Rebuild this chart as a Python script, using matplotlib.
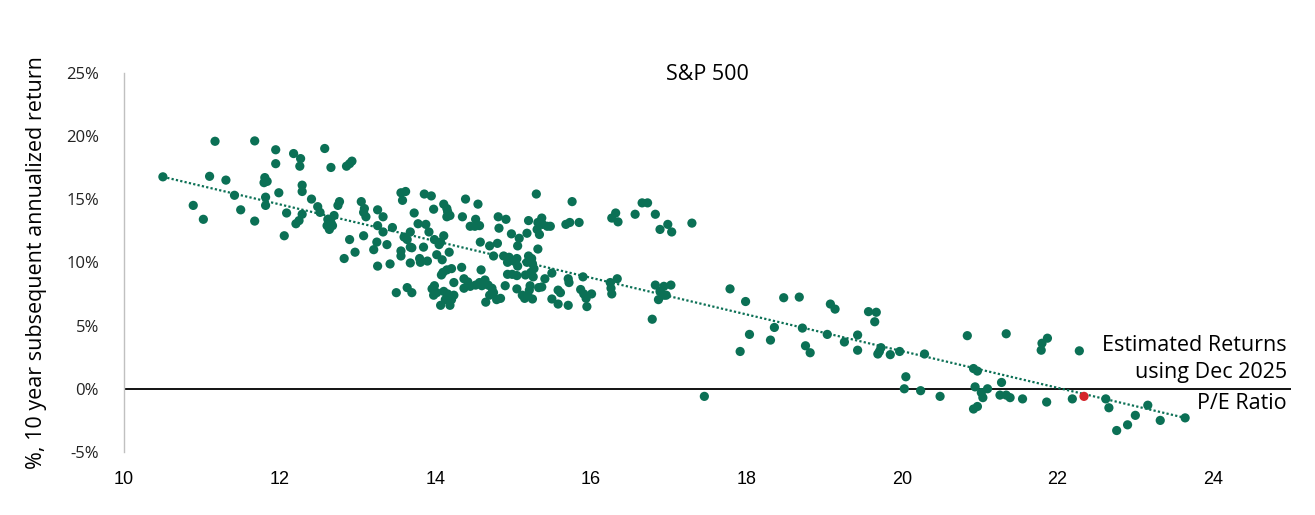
import matplotlib.pyplot as plt

# P/E ratio vs subsequent 10 year annualized return
pe_ratio = [
    11.17, 11.68, 11.95, 11.95, 12.18, 12.27, 12.26, 12.58, 12.66, 12.86, 12.90, 12.93,
    10.50, 11.10, 11.31, 11.81, 11.80, 11.84, 11.42, 10.89, 11.02, 11.50, 11.68, 11.82,
    11.82, 11.99, 12.09, 12.06, 12.29, 12.29, 12.29, 12.21, 12.25, 12.41, 12.49, 12.52,
    12.77, 12.75, 12.62, 12.66, 12.61, 12.68, 12.64, 12.70, 13.05, 13.09, 13.08, 13.11,
    12.90, 12.83, 12.97, 13.08, 13.21, 13.26, 13.42, 13.26, 13.33, 13.26, 13.33, 13.45,
    13.25, 13.38, 13.56, 13.62, 13.58, 13.68, 13.60, 13.64, 13.68, 13.56, 13.56, 13.68,
    13.50, 13.64,
    13.86, 13.95, 13.73, 13.98, 14.11, 14.15, 14.16, 14.19, 14.15, 14.39, 14.55, 14.35,
    14.52, 14.45, 14.51, 14.57, 14.81, 14.91, 14.82, 14.98, 13.78, 13.88, 13.92, 13.99,
    14.07, 14.11, 14.05, 13.70, 13.85, 14.18, 14.58, 14.70, 14.80, 14.75, 14.88, 14.95,
    14.93, 15.01, 15.05, 13.80, 13.81, 13.90, 14.02, 14.09, 14.10, 14.15, 14.21, 14.34,
    14.59, 14.08, 13.70, 13.99, 13.96, 14.02, 13.98, 14.11, 14.16, 14.13, 14.21, 14.24,
    14.19, 14.07, 14.24, 14.37, 14.42, 14.45, 14.37, 14.52, 14.57, 14.60, 14.64, 14.68,
    14.73, 14.75, 14.79, 14.70, 14.65, 14.84, 14.90, 14.93, 14.99, 15.05, 15.05,
    15.30, 15.76, 15.20, 15.32, 15.37, 15.38, 15.44, 15.48, 15.31, 15.34, 15.68, 15.73,
    15.85, 16.32, 16.27, 16.35, 15.18, 15.08, 15.06, 15.32, 15.20, 15.24, 15.18, 15.25,
    15.06, 15.27, 15.23, 15.26, 15.16, 15.50, 15.41, 15.71, 15.72, 15.90, 16.34, 16.25,
    16.26, 16.27, 15.22, 15.21, 15.19, 15.25, 15.12, 15.15, 15.33, 15.37, 15.58, 15.61,
    15.50, 15.58, 15.71, 15.87, 15.91, 16.01, 15.94, 15.95,
    16.57, 16.66, 16.73, 16.83, 16.89, 16.99, 17.04, 17.30, 16.83, 16.94, 17.03, 16.89,
    16.94, 16.87, 16.97, 17.79, 16.79,
    17.99, 18.04, 17.92, 17.46, 18.31, 18.36, 18.48, 18.68, 18.72, 18.76, 18.82, 19.08,
    19.14, 19.04, 19.26, 19.43, 19.43, 19.57, 19.67, 19.65, 19.73, 19.71, 19.69, 19.85,
    19.97, 20.29, 20.84, 20.05, 20.03, 20.24, 20.49, 20.92, 20.97, 20.94, 20.92, 20.97,
    21.34, 21.87, 21.80, 21.79, 22.28, 21.28, 21.02, 21.10, 21.04, 21.26, 21.34, 21.39,
    21.55, 21.86, 22.19, 22.62, 22.66, 23.16, 23.00, 22.90, 22.76, 23.32, 23.64,
]
fwd_return = [
    19.57, 19.60, 18.90, 17.80, 18.60, 18.20, 17.60, 19.00, 17.50, 17.60, 17.80, 18.00,
    16.76, 16.80, 16.50, 16.70, 16.30, 16.40, 15.30, 14.50, 13.40, 14.15, 13.26, 15.15,
    14.50, 15.50, 13.90, 12.10, 16.10, 15.60, 13.80, 13.05, 13.30, 15.00, 14.40, 13.95,
    14.80, 14.50, 13.40, 13.15, 12.90, 12.90, 12.60, 13.70, 14.80, 14.25, 13.95, 13.60,
    11.80, 10.30, 10.80, 12.10, 11.00, 9.70, 9.87, 14.15, 13.60, 12.90, 12.40, 12.75,
    11.60, 11.40, 15.50, 15.60, 14.90, 12.40, 12.00, 11.80, 11.20, 10.90, 10.50, 9.95,
    7.60, 8.00,
    15.40, 15.25, 13.90, 14.20, 14.60, 14.25, 14.00, 13.70, 13.60, 15.00, 14.60, 13.60,
    13.40, 12.85, 12.85, 12.90, 13.60, 13.40, 12.70, 12.25, 13.05, 13.00, 12.40, 11.80,
    11.60, 12.10, 11.40, 11.15, 11.20, 10.80, 11.60, 11.30, 11.50, 10.50, 10.50, 10.40,
    10.00, 10.10, 10.30, 10.30, 10.00, 10.10, 10.60, 10.20, 9.20, 9.40, 9.50, 9.60,
    9.40, 9.00, 7.60, 8.15, 7.90, 7.60, 7.40, 7.70, 7.50, 7.05, 7.05, 7.40,
    6.60, 6.60, 8.40, 8.70, 8.45, 8.10, 7.95, 8.20, 8.40, 8.15, 8.60, 8.20,
    7.95, 7.60, 7.05, 7.40, 6.85, 7.15, 8.15, 9.05, 9.05, 8.95, 7.90,
    15.40, 14.80, 13.30, 13.15, 13.50, 13.00, 12.85, 12.85, 12.60, 12.20, 13.00, 13.15,
    13.15, 13.90, 13.50, 13.20, 12.30, 11.90, 11.30, 11.05, 10.50, 10.30, 10.00, 9.90,
    9.70, 9.50, 9.20, 8.85, 9.00, 9.15, 8.70, 8.70, 8.40, 8.85, 8.70, 8.40,
    7.95, 7.50, 8.15, 7.80, 7.40, 7.10, 7.40, 7.15, 8.00, 8.05, 7.80, 7.60,
    7.10, 6.70, 6.60, 7.85, 7.50, 7.50, 7.15, 6.50,
    13.80, 14.70, 14.70, 13.80, 12.60, 13.00, 12.40, 13.10, 8.20, 8.10, 8.20, 7.70,
    7.40, 7.05, 7.40, 7.90, 5.50,
    6.90, 4.30, 2.95, -0.60, 3.85, 4.85, 7.20, 7.25, 4.80, 3.40, 2.85, 6.70,
    6.30, 4.30, 3.70, 4.25, 3.05, 6.10, 6.05, 5.30, 3.25, 2.95, 2.75, 2.70,
    2.95, 2.75, 4.20, 0.95, 0.00, -0.15, -0.60, 1.60, 1.40, 0.15, -1.60, -1.40,
    4.35, 4.00, 3.60, 3.05, 3.00, 0.50, -0.30, 0.00, -0.70, -0.50, -0.50, -0.70,
    -0.80, -1.05, -0.80, -0.80, -1.50, -1.30, -2.10, -2.85, -3.30, -2.50, -2.30,
]

# Dec 2025 estimate
current_pe = [22.34]
current_est = [-0.6]

# dotted trend line ends
trend_pe = [10.5, 23.64]
trend_ret = [16.76, -2.3]

yticks = [-5, 0, 5, 10, 15, 20, 25]
xticks = [10, 12, 14, 16, 18, 20, 22, 24]

green = "#0b7055"
red = "#d4252b"
plt.rcParams["font.family"] = ["Open Sans", "DejaVu Sans"]

fig = plt.figure(figsize=(13.15, 5.15), dpi=100)
ax = fig.add_axes([0.0943, 0.1223, 0.8874, 0.7367])

ax.axhline(0, color="black", lw=1.3, zorder=1)
ax.plot(trend_pe, trend_ret, color=green, lw=1.6, linestyle=(0, (1, 1)), zorder=2)
ax.scatter(pe_ratio, fwd_return, s=44, color=green, edgecolors="none", zorder=3)
ax.scatter(current_pe, current_est, s=44, color=red, edgecolors="none", zorder=4)

ax.set_xlim(10, 25)
ax.set_ylim(-5, 25)
ax.set_xticks(xticks)
ax.set_yticks(yticks)
ax.set_yticklabels([f"{v}%" for v in yticks])
for lbl in ax.get_xticklabels():
    lbl.set_family(["Liberation Sans Narrow", "Liberation Sans", "DejaVu Sans"])
ax.tick_params(axis="x", length=0, pad=14, labelsize=13)
ax.tick_params(axis="y", length=0, pad=18, labelsize=12, labelcolor="#222222")

for s in ["top", "right", "bottom"]:
    ax.spines[s].set_visible(False)
ax.spines["left"].set_color("#c0c0c0")
ax.spines["left"].set_linewidth(1)

ax.set_ylabel("%, 10 year subsequent annualized return", fontsize=15.5, labelpad=14)
ax.text(0.5, 0.995, "S&P 500", transform=ax.transAxes, ha="center", va="center",
        fontsize=15.5)

ax.text(24.95, 3.4, "Estimated Returns", ha="right", va="center", fontsize=15.5)
ax.text(24.95, 1.3, "using Dec 2025", ha="right", va="center", fontsize=15.5)
ax.text(24.95, -1.2, "P/E Ratio", ha="right", va="center", fontsize=15.5)

fig.savefig("out.png", dpi=100)
